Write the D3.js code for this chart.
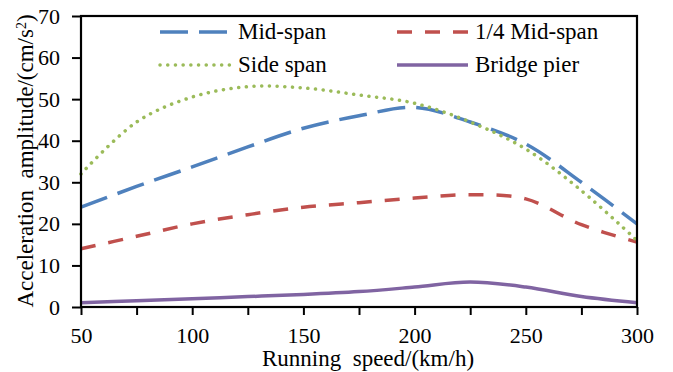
<!DOCTYPE html>
<html>
<head>
<meta charset="utf-8">
<script src="https://cdn.jsdelivr.net/npm/d3@7"></script>
<style>
  body { margin: 0; background: #fff; }
  svg text { font-family: "Liberation Serif", Tinos, "Times New Roman", "DejaVu Serif", serif !important; fill: #000; }
</style>
</head>
<body>
<div id="chart"></div>
<script>
// chart values
const speeds = [50, 75, 100, 125, 150, 175, 200, 225, 250, 275, 300];
const midSpan = [24, 29, 33.7, 38.5, 43, 46, 48, 44.5, 39.2, 30, 20];
const quarterMidSpan = [14, 17, 20, 22.2, 24, 25.1, 26.2, 27, 26, 19.8, 15.6];
const sideSpan = [32, 44.5, 50.5, 53, 52.7, 51, 49, 44.5, 38, 28, 16];
const bridgePier = [1, 1.5, 2, 2.5, 3, 3.7, 4.8, 6, 4.8, 2.5, 1];
const seriesNames = ["Mid-span", "1/4 Mid-span", "Side span", "Bridge pier"];
const xTicks = [50, 75, 100, 125, 150, 175, 200, 225, 250, 275, 300];
const yTicks = [0, 10, 20, 30, 40, 50, 60, 70];

const W = 673, H = 372;
const margin = {top: 16, right: 36, bottom: 65, left: 81};
const serif = '"Liberation Serif", Tinos, "Times New Roman", "DejaVu Serif", serif';

const svg = d3.select('#chart')
              .append('svg')
              .attr('width', W)
              .attr('height', H)
              .attr('font-family', serif);

const x = d3.scaleLinear().domain([50, 300]).range([margin.left, W - margin.right]);
const y = d3.scaleLinear().domain([0, 70]).range([H - margin.bottom, margin.top]);

// line styles per series
const styles = [
  {color: '#4F81BD', dash: '28,11', cap: 'butt'},
  {color: '#C0504D', dash: '15,13', cap: 'butt'},
  {color: '#9BBB59', dash: '0.1,7.6', cap: 'round'},
  {color: '#8064A2', dash: null, cap: 'butt'}
];
const allSeries = [midSpan, quarterMidSpan, sideSpan, bridgePier];

const line = d3.line()
  .x((d, i) => x(speeds[i]))
  .y(d => y(d))
  .curve(d3.curveCatmullRom.alpha(0.5));

// draw order: purple, red, blue, green on top
[3, 1, 0, 2].forEach(k => {
  svg.append('path')
    .datum(allSeries[k])
    .attr('d', line)
    .attr('fill', 'none')
    .attr('stroke', styles[k].color)
    .attr('stroke-width', 3.5)
    .attr('stroke-linecap', styles[k].cap)
    .attr('stroke-dasharray', styles[k].dash);
});

// axes
const xAxis = d3.axisBottom(x)
  .tickValues(xTicks)
  .tickSize(8)
  .tickSizeOuter(0)
  .tickPadding(12)
  .tickFormat(d => d % 50 === 0 ? d : '');

const yAxis = d3.axisLeft(y)
  .tickValues(yTicks)
  .tickSize(9)
  .tickSizeOuter(0)
  .tickPadding(12);

const gx = svg.append('g')
  .attr('transform', `translate(0,${H - margin.bottom})`)
  .call(xAxis);
const gy = svg.append('g')
  .attr('transform', `translate(${margin.left},0)`)
  .call(yAxis);

[gx, gy].forEach(g => {
  g.attr('font-family', serif).attr('font-size', 22);
  g.select('.domain').remove();
  g.selectAll('line').attr('stroke', '#000').attr('stroke-width', 2);
  g.selectAll('text').attr('fill', '#000');
});

// plot frame
svg.append('rect')
  .attr('x', margin.left)
  .attr('y', margin.top)
  .attr('width', W - margin.left - margin.right)
  .attr('height', H - margin.top - margin.bottom)
  .attr('fill', 'none')
  .attr('stroke', '#000')
  .attr('stroke-width', 2.2);

// axis titles
svg.append('text')
  .attr('x', 368)
  .attr('y', 366)
  .attr('text-anchor', 'middle')
  .attr('font-size', 23)
  .style('white-space', 'pre')
  .text('Running  speed/(km/h)');

const yl = svg.append('text')
  .attr('transform', 'translate(33,161) rotate(-90)')
  .attr('text-anchor', 'middle')
  .attr('font-size', 23)
  .style('white-space', 'pre');
yl.append('tspan').text('Acceleration  amplitude/(cm/s');
yl.append('tspan').attr('baseline-shift', 'super').attr('font-size', 14).text('2');
yl.append('tspan').text(')');

// legend, two columns by two rows
const legend = svg.append('g');
seriesNames.forEach((name, i) => {
  const col = i % 2, row = Math.floor(i / 2);
  const lx = col === 0 ? 160 : 397;
  const ly = row === 0 ? 32 : 65;
  legend.append('line')
    .attr('x1', lx).attr('x2', lx + 71)
    .attr('y1', ly).attr('y2', ly)
    .attr('stroke', styles[i].color)
    .attr('stroke-width', 3.5)
    .attr('stroke-linecap', styles[i].cap)
    .attr('stroke-dasharray', styles[i].dash);
  legend.append('text')
    .attr('x', lx + 78)
    .attr('y', ly + 7)
    .attr('font-size', 23)
    .text(name);
});
</script>
</body>
</html>
